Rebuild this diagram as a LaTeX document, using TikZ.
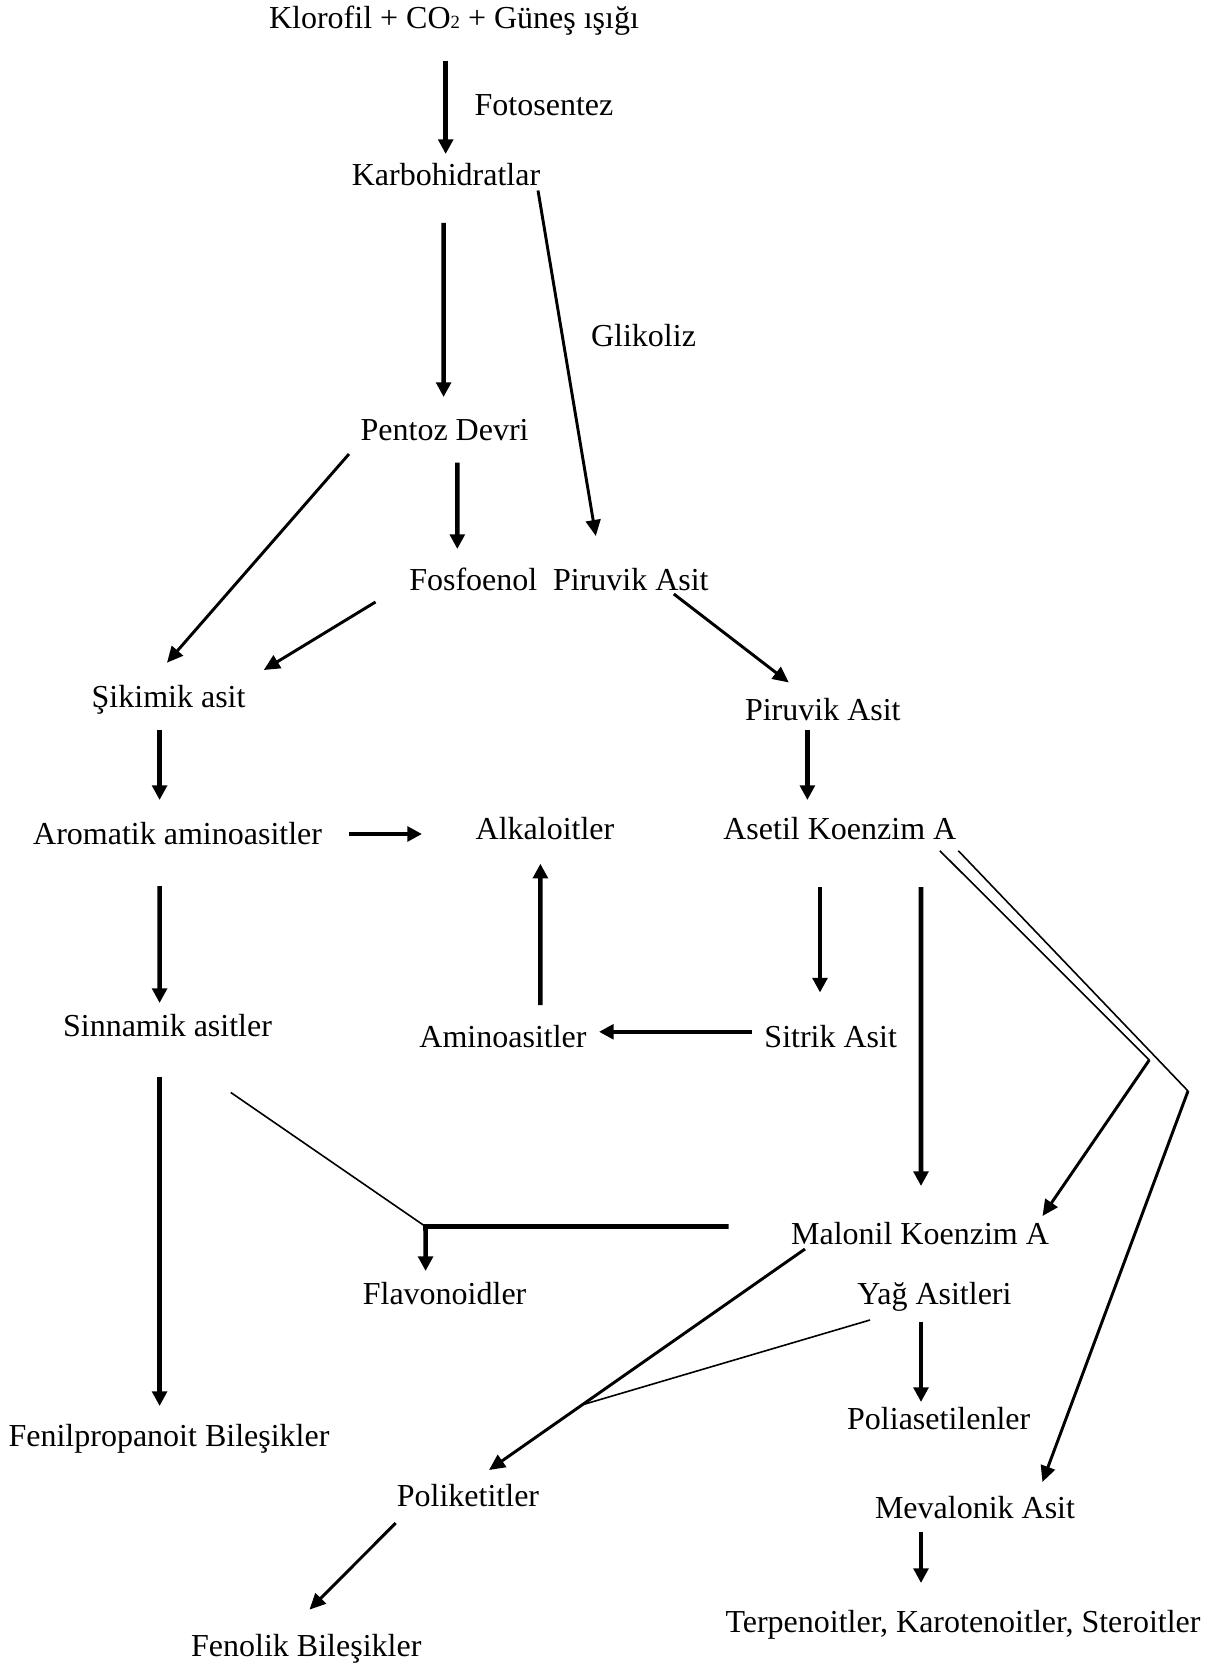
\documentclass[tikz,border=0pt]{standalone}
\usepackage{fontspec}
\setmainfont{Liberation Serif}
\usepackage{tikz}
\usetikzlibrary{arrows.meta,calc}

\begin{document}
\begin{tikzpicture}[
  x=0.375pt, y=-0.375pt,
  font=\fontsize{12}{14}\selectfont,
  txt/.style={inner sep=0pt, text height=8pt, text depth=2pt},
  arr/.style={-{Triangle[length=5.5pt,width=5.5pt]}, line width=1.7pt},
  darr/.style={-{Triangle[length=6pt,width=5.5pt]}, line width=1.1pt},
  lin/.style={line width=0.6pt}
]
\useasboundingbox (0,0) rectangle (1219,1668);

% nodes
\node[txt] (top) at (454,21) {Klorofil + CO{\scriptsize 2} + Güneş ışığı};
\node[txt] (foto) at (544,108) {Fotosentez};
\node[txt] (karbo) at (446,177.5) {Karbohidratlar};
\node[txt] (glik) at (643.5,339) {Glikoliz};
\node[txt] (pentoz) at (444.6,432) {Pentoz Devri};
\node[txt] (fosfo) at (473.3,582) {Fosfoenol};
\node[txt] (piruvikA) at (630.8,582) {Piruvik Asit};
\node[txt] (sikimik) at (168.6,699) {Şikimik asit};
\node[txt] (piruvikB) at (822.8,712.5) {Piruvik Asit};
\node[txt] (asetil) at (839.8,831) {Asetil Koenzim A};
\node[txt] (aromatik) at (177.6,836) {Aromatik aminoasitler};
\node[txt] (alkaloit) at (545,831) {Alkaloitler};
\node[txt] (sinnamik) at (167.5,1028.5) {Sinnamik asitler};
\node[txt] (amino) at (503,1039) {Aminoasitler};
\node[txt] (sitrik) at (830.7,1039) {Sitrik Asit};
\node[txt] (malonil) at (920,1236) {Malonil Koenzim A};
\node[txt] (flavo) at (444.6,1296.5) {Flavonoidler};
\node[txt] (yag) at (934.5,1296.5) {Yağ Asitleri};
\node[txt] (fenilprop) at (169,1438) {Fenilpropanoit Bileşikler};
\node[txt] (poliaset) at (938.7,1421) {Poliasetilenler};
\node[txt] (poliket) at (468,1498.6) {Poliketitler};
\node[txt] (mevalon) at (975,1510) {Mevalonik Asit};
\node[txt] (terpen) at (963,1624) {Terpenoitler, Karotenoitler, Steroitler};
\node[txt] (fenolik) at (306.3,1648.6) {Fenolik Bileşikler};

% bends and junctions
\coordinate (mrg) at (425.5,1226.5);
\coordinate (jpk) at (585,1404);
\coordinate (bendA) at (1149.3,1060);
\coordinate (bendB) at (1188,1091);

% connectors
\draw[arr] ($(top)+(-8.3,39.6)$) -- ($(karbo)+(-0.3,-23.5)$);
\draw[arr] ($(karbo)+(-2.4,45.5)$) -- ($(pentoz)+(-1,-35)$);
\draw[darr] ($(karbo)+(92,13)$) -- ($(piruvikA)+(-35,-46)$);
\draw[darr] ($(pentoz)+(-95.6,22)$) -- ($(sikimik)+(-1.6,-36.3)$);
\draw[arr] ($(pentoz)+(12.8,30.7)$) -- ($(fosfo)+(-16,-33)$);
\draw[darr] ($(fosfo)+(-97.8,20)$) -- ($(sikimik)+(95.2,-29)$);
\draw[darr] ($(piruvikA)+(43,12)$) -- ($(piruvikB)+(-34,-30)$);
\draw[arr] ($(piruvikB)+(-15.4,17.2)$) -- ($(asetil)+(-32.4,-31)$);
\draw[arr] ($(sikimik)+(-9,30.7)$) -- ($(aromatik)+(-18,-36)$);
\draw[arr] ($(aromatik)+(171.4,-2)$) -- ($(alkaloit)+(-123,3)$);
\draw[arr] ($(aromatik)+(-18,50)$) -- ($(sinnamik)+(-7.9,-25.5)$);
\draw[arr] ($(amino)+(37.4,-34)$) -- ($(alkaloit)+(-4.6,32.7)$);
\draw[arr] ($(sitrik)+(-78.7,-7.2)$) -- ($(amino)+(96,-7.2)$);
\draw[arr] ($(asetil)+(-19.8,56)$) -- ($(sitrik)+(-10.7,-46.5)$);
\draw[arr] ($(asetil)+(81.2,56)$) -- ($(malonil)+(1,-50)$);
\draw[lin] ($(asetil)+(100,19.7)$) -- (bendA);
\draw[darr] (bendA) -- ($(malonil)+(122.5,-20)$);
\draw[lin] ($(asetil)+(118.5,19.7)$) -- (bendB);
\draw[darr] (bendB) -- ($(mevalon)+(67.4,-28)$);
\draw[arr] ($(sinnamik)+(-7.9,48)$) -- ($(fenilprop)+(-9.4,-32)$);
\draw[lin] ($(sinnamik)+(63.3,64)$) -- (mrg);
\draw[arr] ($(malonil)+(-191.4,-9.5)$) -- (mrg) -- ($(flavo)+(-19,-25.5)$);
\draw[darr] ($(malonil)+(-115,13)$) -- ($(poliket)+(21,-28.6)$);
\draw[lin] ($(yag)+(-64.5,23.5)$) -- (jpk);
\draw[arr] ($(yag)+(-13.5,25.5)$) -- ($(poliaset)+(-17.7,-19)$);
\draw[arr] ($(mevalon)+(-54,22)$) -- ($(terpen)+(-42,-41)$);
\draw[darr] ($(poliket)+(-72.3,24.4)$) -- ($(fenolik)+(3.2,-39)$);
\end{tikzpicture}
\end{document}
